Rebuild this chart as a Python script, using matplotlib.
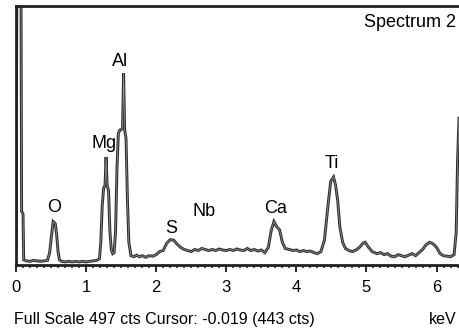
"""EDS spectrum (Spectrum 2) redrawn with matplotlib."""
import matplotlib.pyplot as plt
from matplotlib.ticker import MultipleLocator

plt.rcParams["font.family"] = ["Liberation Sans", "DejaVu Sans"]

# energy (keV) and counts
energy = [
    0.00, 0.02, 0.05, 0.07, 0.08, 0.10, 0.11, 0.15, 0.20, 0.25, 0.30, 0.35, 0.40,
    0.45, 0.48, 0.50, 0.53, 0.56, 0.58, 0.60, 0.62, 0.65, 0.70, 0.75, 0.80, 0.85,
    0.90, 0.95, 1.00, 1.05, 1.10, 1.15, 1.19, 1.21, 1.23, 1.25, 1.27, 1.285, 1.30,
    1.32, 1.34, 1.36, 1.38, 1.40, 1.42, 1.44, 1.46, 1.48, 1.50, 1.52, 1.535, 1.55,
    1.57, 1.59, 1.61, 1.64, 1.68, 1.72, 1.76, 1.80, 1.85, 1.90, 1.95, 2.00, 2.05,
    2.10, 2.15, 2.20, 2.25, 2.30, 2.35, 2.40, 2.45, 2.50, 2.55, 2.60, 2.65, 2.70,
    2.75, 2.80, 2.85, 2.90, 2.95, 3.00, 3.05, 3.10, 3.15, 3.20, 3.25, 3.30, 3.35,
    3.40, 3.45, 3.50, 3.55, 3.60, 3.64, 3.68, 3.72, 3.76, 3.80, 3.84, 3.90, 3.95,
    4.00, 4.05, 4.10, 4.15, 4.20, 4.25, 4.30, 4.35, 4.40, 4.45, 4.49, 4.53, 4.56,
    4.59, 4.62, 4.66, 4.70, 4.75, 4.80, 4.85, 4.90, 4.95, 4.98, 5.02, 5.08, 5.15,
    5.20, 5.25, 5.30, 5.35, 5.40, 5.45, 5.50, 5.55, 5.60, 5.65, 5.70, 5.75, 5.80,
    5.85, 5.90, 5.95, 6.00, 6.05, 6.10, 6.15, 6.20, 6.25, 6.28, 6.30, 6.32,
]
counts = [
    30, 900, 900, 600, 100, 95, 6, 4, 3, 5, 4, 3, 4,
    5, 20, 45, 80, 76, 55, 22, 6, 3, 2, 3, 2, 3,
    2, 3, 2, 3, 4, 5, 8, 40, 110, 145, 150, 205, 150,
    140, 60, 25, 18, 20, 60, 180, 250, 257, 258, 260, 367, 258,
    240, 120, 40, 14, 12, 15, 12, 14, 11, 14, 13, 16, 22,
    24, 38, 45, 44, 36, 30, 26, 24, 22, 26, 24, 28, 26,
    24, 26, 24, 27, 25, 24, 26, 24, 27, 25, 24, 28, 24,
    26, 23, 25, 20, 30, 62, 80, 70, 64, 40, 28, 26, 24,
    25, 22, 24, 22, 23, 20, 18, 22, 44, 110, 158, 166, 150,
    120, 70, 40, 28, 24, 22, 25, 30, 38, 40, 32, 22, 18,
    20, 16, 18, 13, 12, 16, 14, 12, 15, 18, 14, 20, 26,
    35, 40, 37, 30, 18, 14, 13, 12, 16, 60, 200, 280,
]

elements = ["O", "Mg", "Al", "S", "Nb", "Ca", "Ti"]
label_kev = [0.55, 1.25, 1.49, 2.22, 2.68, 3.71, 4.51]
label_cts = [98, 222, 381, 58, 91, 96, 184]

full_scale = 497

fig = plt.figure(figsize=(4.59, 3.28), dpi=100)
ax = fig.add_axes([16 / 459, 63 / 328, 1 - 16 / 459, 259 / 328])

# thick dark trace with a lighter core, like the scanned original
ax.plot(energy, counts, color="#2e2e2e", lw=2.1, solid_joinstyle="miter")
ax.plot(energy, counts, color="#9a9a9a", lw=0.5, solid_joinstyle="miter")

for name, xk, yc in zip(elements, label_kev, label_cts):
    ax.text(xk, yc, name, fontsize=13, ha="center", va="baseline")

ax.set_xlim(0, 6.32)
ax.set_ylim(-4, full_scale)

for side in ["left", "top", "bottom"]:
    ax.spines[side].set_linewidth(2.0)
    ax.spines[side].set_color("#202020")
ax.spines["right"].set_visible(False)

ax.xaxis.set_major_locator(MultipleLocator(1))
ax.xaxis.set_minor_locator(MultipleLocator(0.1))
ax.tick_params(axis="x", which="major", direction="out", length=5, width=1.5,
               labelsize=12, pad=6, color="#303030")
ax.tick_params(axis="x", which="minor", direction="out", length=2.5, width=1.2,
               color="#303030")
ax.set_yticks([])

fig.text(456 / 459, 1 - 27 / 328, "Spectrum 2", fontsize=13, ha="right", va="baseline")
fig.text(14 / 459, 1 - 324 / 328, f"Full Scale {full_scale} cts Cursor: -0.019 (443 cts)",
         fontsize=11.5, ha="left", va="baseline")
fig.text(457 / 459, 1 - 324 / 328, "keV", fontsize=11.5, ha="right", va="baseline")

fig.savefig("out.png", dpi=100)
plt.close(fig)
